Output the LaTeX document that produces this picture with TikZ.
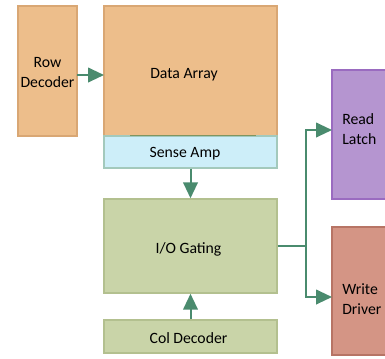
\documentclass[tikz,border=0pt]{standalone}
\usepackage{fontspec}
\setmainfont{Carlito}
\usetikzlibrary{arrows.meta}

\definecolor{orgfill}{HTML}{EDBE8B}
\definecolor{orgline}{HTML}{D9A774}
\definecolor{ampfill}{HTML}{CDEEF9}
\definecolor{ampline}{HTML}{A3C9BC}
\definecolor{grnfill}{HTML}{C9D4A8}
\definecolor{grnline}{HTML}{B3C08F}
\definecolor{purfill}{HTML}{B595D0}
\definecolor{purline}{HTML}{9A6BC0}
\definecolor{redfill}{HTML}{D49585}
\definecolor{redline}{HTML}{B77465}
\definecolor{wire}{HTML}{4A8B6E}
\definecolor{seam}{HTML}{7F9560}

\tikzset{
  block/.style={rectangle, line width=1.1pt, inner sep=0pt},
  sz/.style 2 args={minimum width=#1*0.75pt, minimum height=#2*0.75pt},
  orangebox/.style={block, fill=orgfill, draw=orgline},
  ampbox/.style={block, fill=ampfill, draw=ampline},
  greenbox/.style={block, fill=grnfill, draw=grnline},
  purplebox/.style={block, fill=purfill, draw=purline},
  redbox/.style={block, fill=redfill, draw=redline},
  txt/.style={font=\fontsize{11.8}{15}\selectfont, align=center, inner sep=0pt},
  lbl/.style={txt, align=left, anchor=west},
  wireline/.style={draw=wire, line width=1.5pt},
  arr/.style={wireline, -{Triangle[length=12pt, width=11pt]}},
}

\begin{document}
\begin{tikzpicture}[x=0.75pt, y=-0.75pt]
  \useasboundingbox (0,0) rectangle (385,358);

  % memory blocks
  \node[orangebox, sz={59}{130}] (rowdec) at (47.5,71) {};
  \node[orangebox, sz={173}{130}] (array) at (190.5,71) {};
  \node[ampbox, sz={173}{32}] (sense) at (190.5,152) {};
  \node[greenbox, sz={173}{94}] (gating) at (190.5,246) {};
  \node[greenbox, sz={173}{33}] (coldec) at (190.5,336.5) {};
  \node[purplebox, sz={64}{129}] (latch) at (364,134.5) {};
  \node[redbox, sz={64}{128}] (driver) at (364,291) {};

  % block captions
  \node[txt] (rowdectxt) at (47.5,73) {Row\\Decoder};
  \node[txt] (arraytxt) at (184,74.5) {Data Array};
  \node[txt] (sensetxt) at (185,153.5) {Sense Amp};
  \node[txt] (gatingtxt) at (188.5,249) {I/O Gating};
  \node[txt] (coldectxt) at (188.5,338) {Col Decoder};
  \node[lbl] (latchtxt) at (342,129) {Read\\Latch};
  \node[lbl] (drivertxt) at (342,299) {Write\\Driver};

  % seam between array and sense amplifier
  \draw[seam, line width=1.2pt] (130,135.5) -- (256,135.5);

  % wiring
  \coordinate (rowout) at (77,75);
  \coordinate (arrayin) at (104,75);
  \coordinate (split) at (305.5,246);
  \coordinate (latchin) at (332,130);
  \coordinate (driverin) at (332,297);

  \draw[arr] (rowout) -- (arrayin);
  \draw[arr] (sense.south) -- (gating.north);
  \draw[arr] (coldec.north) -- (gating.south);
  \draw[wireline] (gating.east) -- (split);
  \draw[arr] (split) |- (latchin);
  \draw[arr] (split) |- (driverin);
\end{tikzpicture}
\end{document}
